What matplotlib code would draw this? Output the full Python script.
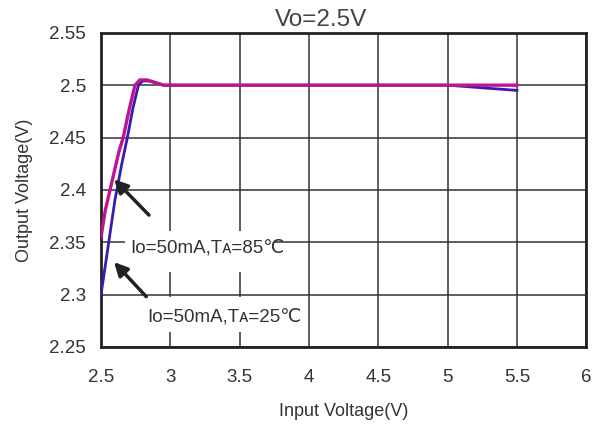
import numpy as np
import matplotlib
matplotlib.use('Agg')
import matplotlib.pyplot as plt
from matplotlib.patches import Rectangle

plt.rcParams['font.family'] = ['Liberation Sans', 'DejaVu Sans']

# Io=50mA, TA=25C  (blue)
vin_25 = [2.5, 2.55, 2.6, 2.65, 2.69, 2.73, 2.77, 2.8, 2.85, 2.9, 2.95, 3.0, 3.5, 4.0, 4.5, 5.0, 5.2, 5.5]
vout_25 = [2.300, 2.345, 2.39, 2.425, 2.45, 2.478, 2.500, 2.504, 2.504, 2.502, 2.5, 2.5, 2.5, 2.5, 2.5, 2.5, 2.498, 2.495]
# Io=50mA, TA=85C  (magenta)
vin_85 = [2.5, 2.53, 2.565, 2.6, 2.63, 2.66, 2.7, 2.745, 2.78, 2.83, 2.88, 2.95, 3.0, 3.5, 4.0, 4.5, 5.0, 5.5]
vout_85 = [2.355, 2.38, 2.40, 2.42, 2.437, 2.45, 2.475, 2.500, 2.505, 2.505, 2.503, 2.5, 2.5, 2.5, 2.5, 2.5, 2.5, 2.5]

xticks = [2.5, 3, 3.5, 4, 4.5, 5, 5.5, 6]
yticks = [2.25, 2.3, 2.35, 2.4, 2.45, 2.5, 2.55]

fig = plt.figure(figsize=(6.05, 4.32), dpi=100)
ax = fig.add_axes([0.167, 0.197, 0.802, 0.727])

ax.plot(vin_25, vout_25, color='#3a1ab0', lw=2.0, zorder=3)
ax.plot(vin_85, vout_85, color='#c0138f', lw=2.4, zorder=3)

ax.set_xlim(2.5, 6)
ax.set_ylim(2.25, 2.55)
ax.set_xticks(xticks)
ax.set_xticklabels(['2.5', '3', '3.5', '4', '4.5', '5', '5.5', '6'])
ax.set_yticks(yticks)
ax.set_yticklabels(['2.25', '2.3', '2.35', '2.4', '2.45', '2.5', '2.55'])
ax.grid(True, color='#333333', lw=1.1)
ax.set_axisbelow(True)
ax.tick_params(length=0, labelsize=13.5, colors='#333333')
ax.tick_params(axis='x', pad=16)
ax.tick_params(axis='y', pad=11)
for s in ax.spines.values():
    s.set_linewidth(2)
    s.set_color('#222222')

fig.text(0.53, 0.954, 'Vo=2.5V', fontsize=17.5, ha='center', va='center', color='#444444')
ax.set_xlabel('Input Voltage(V)', fontsize=13, color='#333333')
ax.xaxis.set_label_coords(0.5, -0.18)
ax.set_ylabel('Output Voltage(V)', fontsize=13, color='#333333')
ax.yaxis.set_label_coords(-0.14, 0.5)

# white boxes behind the labels (cover the grid)
ax.add_patch(Rectangle((2.675, 2.3215), 1.07, 0.039, facecolor='white', edgecolor='none', zorder=2))
ax.add_patch(Rectangle((2.82, 2.264), 0.88, 0.0335, facecolor='white', edgecolor='none', zorder=2))

ax.text(2.71, 2.344, 'Io=50mA,T\u1d00=85\u2103', fontsize=13.5, va='center', zorder=4, color='#333333')
ax.text(2.83, 2.279, 'Io=50mA,T\u1d00=25\u2103', fontsize=13.5, va='center', zorder=4, color='#333333')
ax.annotate('', xy=(2.58, 2.412), xytext=(2.86, 2.374),
            arrowprops=dict(arrowstyle='-|>,head_length=0.8,head_width=0.4', color='#222222', lw=2.5), zorder=5)
ax.annotate('', xy=(2.58, 2.333), xytext=(2.84, 2.296),
            arrowprops=dict(arrowstyle='-|>,head_length=0.8,head_width=0.4', color='#222222', lw=2.5), zorder=5)

fig.savefig('out.png', dpi=100)
